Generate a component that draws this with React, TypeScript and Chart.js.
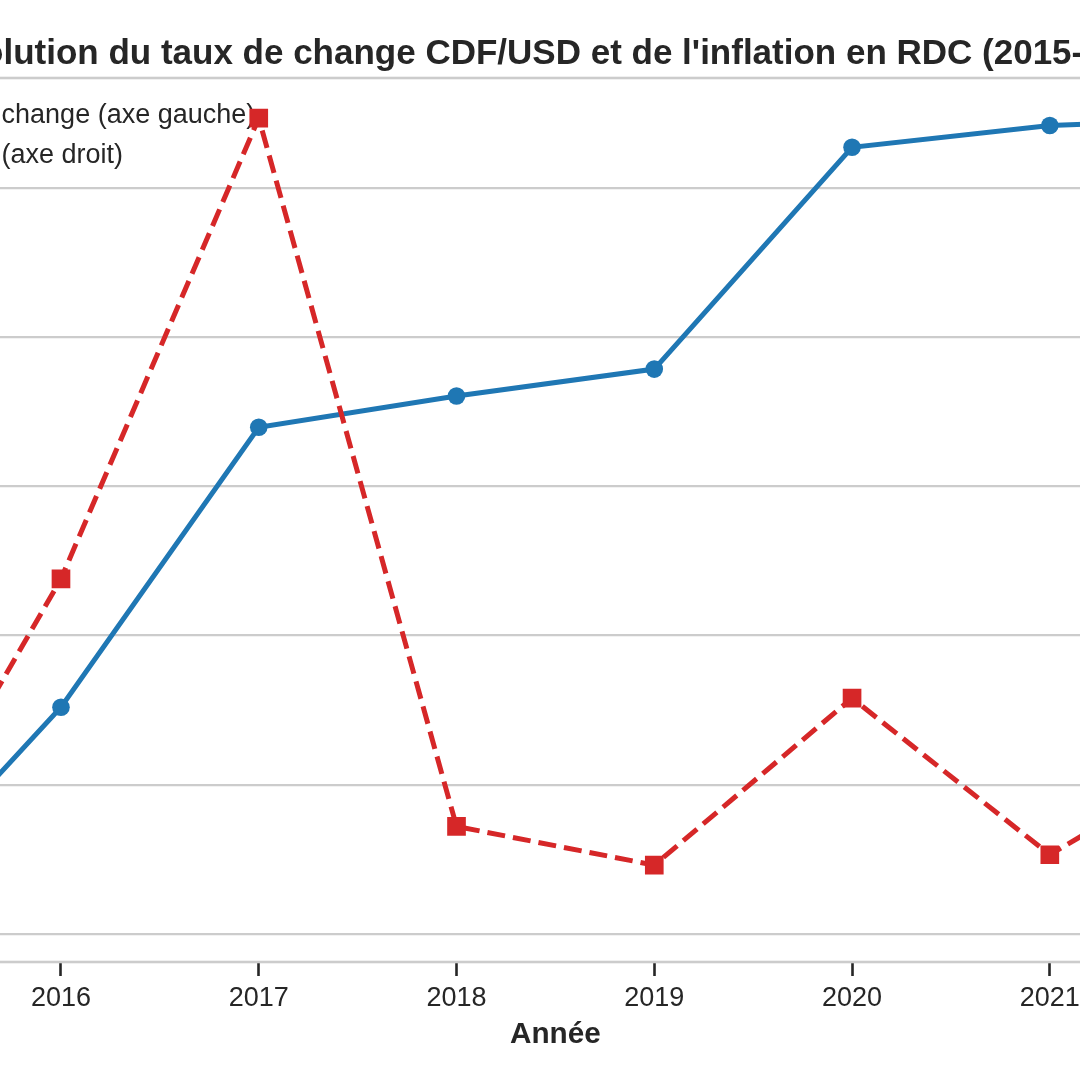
import React, { useEffect, useRef } from "react";
import { Chart, registerables } from "chart.js";

Chart.register(...registerables);

// Annual series, 2015-2022
const YEARS = [2015, 2016, 2017, 2018, 2019, 2020, 2021, 2022];
const EXCHANGE_RATE = [925, 1220, 1605, 1648, 1685, 1990, 2020, 2030]; // CDF per USD
const INFLATION = [0.8, 23.8, 54.7, 7.2, 4.6, 15.8, 5.3, 13.1]; // %
const INFLATION_TICKS = [0, 10, 20, 30, 40, 50];

const TITLE = "Évolution du taux de change CDF/USD et de l'inflation en RDC (2015-2022)";
const X_LABEL = "Année";
const RATE_LABEL = "Taux de change (axe gauche)";
const INFL_LABEL = "Inflation (axe droit)";
const RATE_AXIS = "Taux de change (CDF/USD)";
const INFL_AXIS = "Inflation (%)";

const BLUE = "#1f77b4";
const RED = "#d62728";
const TEXT = "#262626";
const GRID = "#cccccc";
const FONT = "'Liberation Sans', Arial, Helvetica, sans-serif";

const CANVAS_W = 1912;
const CANVAS_H = 1080;
const CANVAS_LEFT = -400;

// autoscale with a 5% margin on both ends
function paddedRange(values: number[], frac = 0.05) {
  const lo = Math.min(...values);
  const hi = Math.max(...values);
  const pad = (hi - lo) * frac;
  return { min: lo - pad, max: hi + pad };
}

const LINE_W = 5;
const DASH = [18, 8];

// frame around the plotting area
const spinesPlugin = {
  id: "spines",
  beforeDatasetsDraw(chart: any) {
    const { ctx, chartArea } = chart;
    ctx.save();
    ctx.strokeStyle = GRID;
    ctx.lineWidth = 2.6;
    ctx.strokeRect(chartArea.left, chartArea.top, chartArea.right - chartArea.left, chartArea.bottom - chartArea.top);
    ctx.restore();
  },
};

// legend in the upper-left corner of the plotting area, under the series
const insideLegendPlugin = {
  id: "insideLegend",
  beforeDatasetsDraw(chart: any) {
    const { ctx, chartArea } = chart;
    const rows = [
      { label: RATE_LABEL, color: BLUE, dash: [] as number[], marker: "circle" },
      { label: INFL_LABEL, color: RED, dash: DASH, marker: "rect" },
    ];
    const handleX = chartArea.left + 26;
    const handleLen = 54;
    const textX = chartArea.left + 105.5;
    ctx.save();
    rows.forEach((r, i) => {
      const y = chartArea.top + 37.5 + i * 40;
      ctx.strokeStyle = r.color;
      ctx.lineWidth = LINE_W;
      ctx.setLineDash(r.dash);
      ctx.beginPath();
      ctx.moveTo(handleX, y);
      ctx.lineTo(handleX + handleLen, y);
      ctx.stroke();
      ctx.setLineDash([]);
      ctx.fillStyle = r.color;
      const cx = handleX + handleLen / 2;
      if (r.marker === "circle") {
        ctx.beginPath();
        ctx.arc(cx, y, 8.8, 0, Math.PI * 2);
        ctx.fill();
      } else {
        ctx.fillRect(cx - 9.3, y - 9.3, 18.6, 18.6);
      }
      ctx.fillStyle = TEXT;
      ctx.font = `27px ${FONT}`;
      ctx.textAlign = "left";
      ctx.textBaseline = "middle";
      ctx.fillText(r.label, textX, y);
    });
    ctx.restore();
  },
};

export default function App() {
  const canvasRef = useRef<HTMLCanvasElement | null>(null);

  useEffect(() => {
    const canvas = canvasRef.current;
    if (!canvas) return;
    const xRange = paddedRange(YEARS);
    const rateRange = paddedRange(EXCHANGE_RATE);
    const inflRange = paddedRange(INFLATION);

    const chart = new Chart(canvas, {
      type: "line",
      data: {
        datasets: [
          {
            label: RATE_LABEL,
            data: YEARS.map((x, i) => ({ x, y: EXCHANGE_RATE[i] })),
            yAxisID: "y",
            borderColor: BLUE,
            backgroundColor: BLUE,
            borderWidth: LINE_W,
            pointStyle: "circle",
            pointRadius: 8.8,
            pointBorderWidth: 0,
            pointBackgroundColor: BLUE,
            tension: 0,
            fill: false,
            order: 2,
          },
          {
            label: INFL_LABEL,
            data: YEARS.map((x, i) => ({ x, y: INFLATION[i] })),
            yAxisID: "y1",
            borderColor: RED,
            backgroundColor: RED,
            borderWidth: LINE_W,
            borderDash: DASH,
            pointStyle: "rect",
            pointRadius: 13.2,
            pointBorderWidth: 0,
            pointBackgroundColor: RED,
            tension: 0,
            fill: false,
            order: 1,
          },
        ],
      },
      options: {
        responsive: false,
        animation: false,
        events: [],
        layout: { padding: 0 },
        plugins: {
          legend: { display: false },
          tooltip: { enabled: false },
          title: {
            display: true,
            text: TITLE,
            color: TEXT,
            font: { family: FONT, size: 35, weight: "bold", lineHeight: 1.2 },
            padding: { top: 33.5, bottom: 2.5 },
          },
        },
        scales: {
          x: {
            type: "linear",
            position: "bottom",
            min: xRange.min,
            max: xRange.max,
            afterFit: (s: any) => {
              s.height = 118;
            },
            ticks: {
              stepSize: 1,
              includeBounds: false,
              color: TEXT,
              font: { family: FONT, size: 27 },
              padding: 6.3,
              maxRotation: 0,
              autoSkip: false,
              callback: (v: any) => String(v),
            },
            grid: {
              display: true,
              drawOnChartArea: false,
              drawTicks: true,
              tickLength: 14,
              tickColor: TEXT,
              tickWidth: 2.6,
            },
            border: { display: false },
            title: {
              display: true,
              text: X_LABEL,
              color: TEXT,
              font: { family: FONT, size: 29.7, weight: "bold", lineHeight: 1.2 },
              padding: { top: 0, bottom: 27.2 },
            },
          },
          y: {
            type: "linear",
            position: "left",
            min: rateRange.min,
            max: rateRange.max,
            afterFit: (s: any) => {
              s.width = 194;
            },
            ticks: {
              color: BLUE,
              font: { family: FONT, size: 27 },
              callback: (v: any) => String(v),
            },
            grid: { display: true, drawOnChartArea: false, drawTicks: false },
            border: { display: false },
            title: {
              display: true,
              text: RATE_AXIS,
              color: BLUE,
              font: { family: FONT, size: 29.7, weight: "bold" },
            },
          },
          y1: {
            type: "linear",
            position: "right",
            min: inflRange.min,
            max: inflRange.max,
            afterFit: (s: any) => {
              s.width = CANVAS_W - 1716.8;
            },
            afterBuildTicks: (s: any) => {
              s.ticks = INFLATION_TICKS.map((value) => ({ value }));
            },
            ticks: {
              color: RED,
              font: { family: FONT, size: 27 },
              callback: (v: any) => String(v),
            },
            grid: {
              display: true,
              drawOnChartArea: true,
              drawTicks: false,
              color: GRID,
              lineWidth: 2.2,
            },
            border: { display: false },
            title: {
              display: true,
              text: INFL_AXIS,
              color: RED,
              font: { family: FONT, size: 29.7, weight: "bold" },
            },
          },
        },
      },
      plugins: [spinesPlugin, insideLegendPlugin],
    } as any);

    return () => chart.destroy();
  }, []);

  return (
    <div
      style={{
        position: "fixed",
        left: 0,
        top: 0,
        width: 1080,
        height: 1080,
        overflow: "hidden",
        background: "#ffffff",
      }}
    >
      <canvas
        ref={canvasRef}
        width={CANVAS_W}
        height={CANVAS_H}
        style={{ position: "absolute", left: CANVAS_LEFT, top: 0, width: CANVAS_W, height: CANVAS_H }}
      />
    </div>
  );
}
